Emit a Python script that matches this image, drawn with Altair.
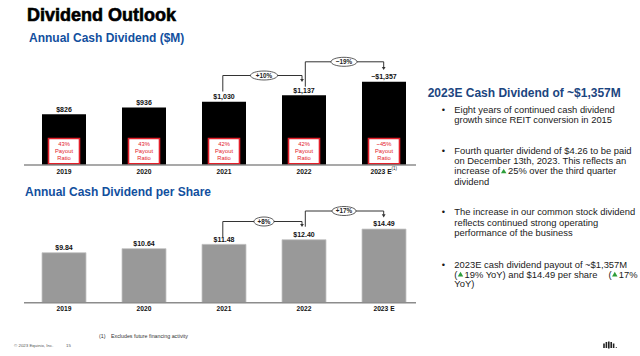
import altair as alt
import pandas as pd

# ---------------- data ----------------
years = ["2019", "2020", "2021", "2022", "2023 E"]
cash_dividend = [826, 936, 1030, 1137, 1357]
cash_labels = ["$826", "$936", "$1,030", "$1,137", "~$1,357"]
payout_ratio = ["43%", "43%", "42%", "42%", "~45%"]
per_share = [9.84, 10.64, 11.48, 12.40, 14.49]
per_share_labels = ["$9.84", "$10.64", "$11.48", "$12.40", "$14.49"]
top_growth = [("2021", "2022", "+10%"), ("2022", "2023 E", "~19%")]
bottom_growth = [("2021", "2022", "+8%"), ("2022", "2023 E", "+17%")]

F = "Liberation Sans"
RED = "#e3202a"
BLUE = "#124f9e"
NAVY = "#1b4580"
LINE = "#333333"
GREEN = "#2e9e3a"
TXT = "#1a1a1a"

top_df = pd.DataFrame({
    "year": years,
    "value": cash_dividend,
    "label": cash_labels,
    "payout": [p + "\nPayout\nRatio" for p in payout_ratio],
})
bot_df = pd.DataFrame({"year": years, "value": per_share, "label": per_share_labels})
dummy = pd.DataFrame({"k": [0]})

xscale = alt.Scale(domain=years, range=[24, 424], paddingInner=0.45, paddingOuter=0.225)
X = alt.X("year:N", sort=years, scale=xscale, axis=None)

TOP_BASE = 165.0
TOP_PX = 0.06138
BOT_BASE = 302.7
BOT_PX = 5.081
Ytop = alt.Y("value:Q", axis=None,
             scale=alt.Scale(domain=[0, 1400], range=[TOP_BASE, TOP_BASE - 1400 * TOP_PX], nice=False, zero=True))
Ybot = alt.Y("value:Q", axis=None,
             scale=alt.Scale(domain=[0, 15], range=[BOT_BASE, BOT_BASE - 15 * BOT_PX], nice=False, zero=True))


def txt(s, x, y, size, color=TXT, weight="normal", align="left", **kw):
    return alt.Chart(dummy).mark_text(
        text=s, fontSize=size, font=F, color=color, fontWeight=weight,
        align=align, baseline="middle", **kw
    ).encode(x=alt.value(x), y=alt.value(y))


def tri(x, y, size=30):
    return alt.Chart(dummy).mark_point(
        shape="triangle-up", filled=True, color=GREEN, size=size, opacity=1
    ).encode(x=alt.value(x), y=alt.value(y))


def bracket(frm, to, label, top, left_bottom, tip, ell_w, dx_left, dx_right):
    d = pd.DataFrame({"from": [frm], "to": [to], "label": [label]})
    base = alt.Chart(d)
    xf = alt.X("from:N", scale=xscale, axis=None)
    xt = alt.X("to:N", scale=xscale, axis=None)
    r = round(9.0 / ell_w, 3)
    ell = f"M-1,0A1,{r} 0 1,1 1,0A1,{r} 0 1,1 -1,0Z"
    return [
        base.mark_rule(color=LINE, strokeWidth=1, xOffset=dx_left).encode(
            x=xf, y=alt.value(top), y2=alt.value(left_bottom)),
        base.mark_rule(color=LINE, strokeWidth=1, xOffset=dx_left, x2Offset=dx_right).encode(
            x=xf, x2=alt.X2("to:N"), y=alt.value(top)),
        base.mark_rule(color=LINE, strokeWidth=1, xOffset=dx_right).encode(
            x=xt, y=alt.value(top), y2=alt.value(tip - 3)),
        base.mark_point(shape="triangle-down", filled=True, color=LINE, size=14,
                        opacity=1, xOffset=dx_right).encode(x=xt, y=alt.value(tip - 2)),
        base.mark_point(shape=ell, size=ell_w * ell_w, filled=True, fill="white",
                        stroke=LINE, strokeWidth=0.8, opacity=1, xOffset=40).encode(
            x=xf, y=alt.value(top)),
        base.mark_text(fontSize=6.3, fontWeight="bold", font=F, color="#222222",
                       xOffset=40, baseline="middle").encode(
            x=xf, y=alt.value(top + 0.3), text="label"),
    ]


layers = []

# ---------- titles ----------
layers.append(txt("Dividend Outlook", 27, 16, 18, color="black", weight="bold",
                  stroke="black", strokeWidth=0.6))
layers.append(txt("Annual Cash Dividend ($M)", 29, 38, 12, color=BLUE, weight="bold"))
layers.append(txt("Annual Cash Dividend per Share", 25, 192, 12, color=BLUE, weight="bold"))

# ---------- top chart ----------
tc = alt.Chart(top_df)
layers.append(tc.mark_bar(color="black").encode(x=X, y=Ytop))
layers.append(tc.mark_text(dy=-4.5, fontSize=7, fontWeight="bold", font=F, color="#111111",
                           baseline="middle").encode(x=X, y=Ytop, text="label"))
layers.append(tc.mark_bar(fill="white", stroke=RED, strokeWidth=1.6, size=31).encode(
    x=X, y=alt.value(138.5), y2=alt.value(163.8)))
layers.append(tc.mark_text(fontSize=5.8, lineHeight=7.1, lineBreak="\n", font=F, color=RED,
                           baseline="middle").encode(x=X, y=alt.value(143.6), text="payout"))
layers.append(alt.Chart(dummy).mark_rule(color="#8c8c8c", strokeWidth=1.5).encode(
    x=alt.value(24), x2=alt.value(416), y=alt.value(TOP_BASE)))
layers.append(tc.transform_filter(alt.datum.year != "2023 E").mark_text(
    fontSize=6.7, fontWeight="bold", font=F, color="#111111", baseline="middle"
).encode(x=X, y=alt.value(171.8), text="year"))
layers.append(tc.transform_filter(alt.datum.year == "2023 E").mark_text(
    fontSize=6.7, fontWeight="bold", font=F, color="#111111", baseline="middle", xOffset=-3
).encode(x=X, y=alt.value(171.8), text="year"))
layers.append(txt("(1)", 391.5, 168.5, 4.5, color="#111111"))

(frm, to, lab) = top_growth[0]
layers += bracket(frm, to, lab, 75.5, 91.5, 82.5, 27, -1.2, -2)
(frm, to, lab) = top_growth[1]
layers += bracket(frm, to, lab, 61.8, 86.7, 70.5, 26, 1.3, -0.3)

# ---------- bottom chart ----------
bc = alt.Chart(bot_df)
layers.append(bc.mark_bar(color="#999999", stroke="#c4c4c4", strokeWidth=0.8).encode(x=X, y=Ybot))
layers.append(bc.mark_text(dy=-4.7, fontSize=7, fontWeight="bold", font=F, color="#111111",
                           baseline="middle").encode(x=X, y=Ybot, text="label"))
layers.append(alt.Chart(dummy).mark_rule(color="#8c8c8c", strokeWidth=1.5).encode(
    x=alt.value(24), x2=alt.value(416), y=alt.value(BOT_BASE)))
layers.append(bc.mark_text(fontSize=6.7, fontWeight="bold", font=F, color="#111111",
                           baseline="middle").encode(x=X, y=alt.value(309.3), text="year"))

(frm, to, lab) = bottom_growth[0]
layers += bracket(frm, to, lab, 221.5, 237.3, 227.5, 20, -1.2, -2)
(frm, to, lab) = bottom_growth[1]
layers += bracket(frm, to, lab, 211, 226.7, 217.8, 24, 1.3, -0.3)

# ---------- right text panel ----------
layers.append(txt("2023E Cash Dividend of ~$1,357M", 427.7, 93, 12, color=NAVY, weight="bold"))
BX = 454.3
BS = 9.4
for by in [110, 150.7, 212.3, 264.5]:
    layers.append(txt("\u2022", 441.7, by, BS))
layers.append(txt("Eight years of continued cash dividend", BX, 110, BS))
layers.append(txt("growth since REIT conversion in 2015", BX, 120.3, BS))
layers.append(txt("Fourth quarter dividend of $4.26 to be paid", BX, 150.7, BS))
layers.append(txt("on December 13th, 2023. This reflects an", BX, 161, BS))
layers.append(txt("increase of", BX, 171.3, BS))
layers.append(tri(503.7, 171.0))
layers.append(txt("25% over the third quarter", 508, 171.3, BS))
layers.append(txt("dividend", BX, 181.7, BS))
layers.append(txt("The increase in our common stock dividend", BX, 212.3, BS))
layers.append(txt("reflects continued strong operating", BX, 222.8, BS))
layers.append(txt("performance of the business", BX, 233.3, BS))
layers.append(txt("2023E cash dividend payout of ~$1,357M", BX, 264.5, BS))
layers.append(txt("(", BX, 274.5, BS))
layers.append(tri(460.5, 274.2))
layers.append(txt("19% YoY) and $14.49 per share", 464.5, 274.5, BS))
layers.append(txt("(", 608.5, 274.5, BS))
layers.append(tri(614.8, 274.2))
layers.append(txt("17%", 618.8, 274.5, BS))
layers.append(txt("YoY)", BX, 284.3, BS))

# ---------- footer ----------
layers.append(txt("(1)", 99, 336, 5.3, color="#333333"))
layers.append(txt("Excludes future financing activity", 111, 336, 5.3, color="#333333"))
layers.append(txt("\u00a9 2023 Equinix, Inc.", 14, 345.5, 4.4, color="#555555"))
layers.append(txt("15", 66, 345.5, 4.4, color="#555555"))
for lx, top_y, bot_y in [(604, 343.5, 348), (606.4, 342, 348), (608.8, 341.5, 348.5),
                         (611.2, 342, 348), (613.6, 343.5, 348)]:
    layers.append(alt.Chart(dummy).mark_rule(color="#222222", strokeWidth=1.6).encode(
        x=alt.value(lx), y=alt.value(top_y), y2=alt.value(bot_y)))
layers.append(alt.Chart(dummy).mark_point(shape="circle", filled=True, color="#222222",
                                          size=1.5, opacity=1).encode(
    x=alt.value(616.3), y=alt.value(347.5)))

chart = alt.layer(*layers).resolve_scale(y="independent").properties(
    width=640, height=356, autosize=alt.AutoSizeParams(type="none"), padding=0,
    background="white"
).configure_view(stroke=None)

chart.save("out.html", embed_options={"renderer": "svg", "actions": False})
